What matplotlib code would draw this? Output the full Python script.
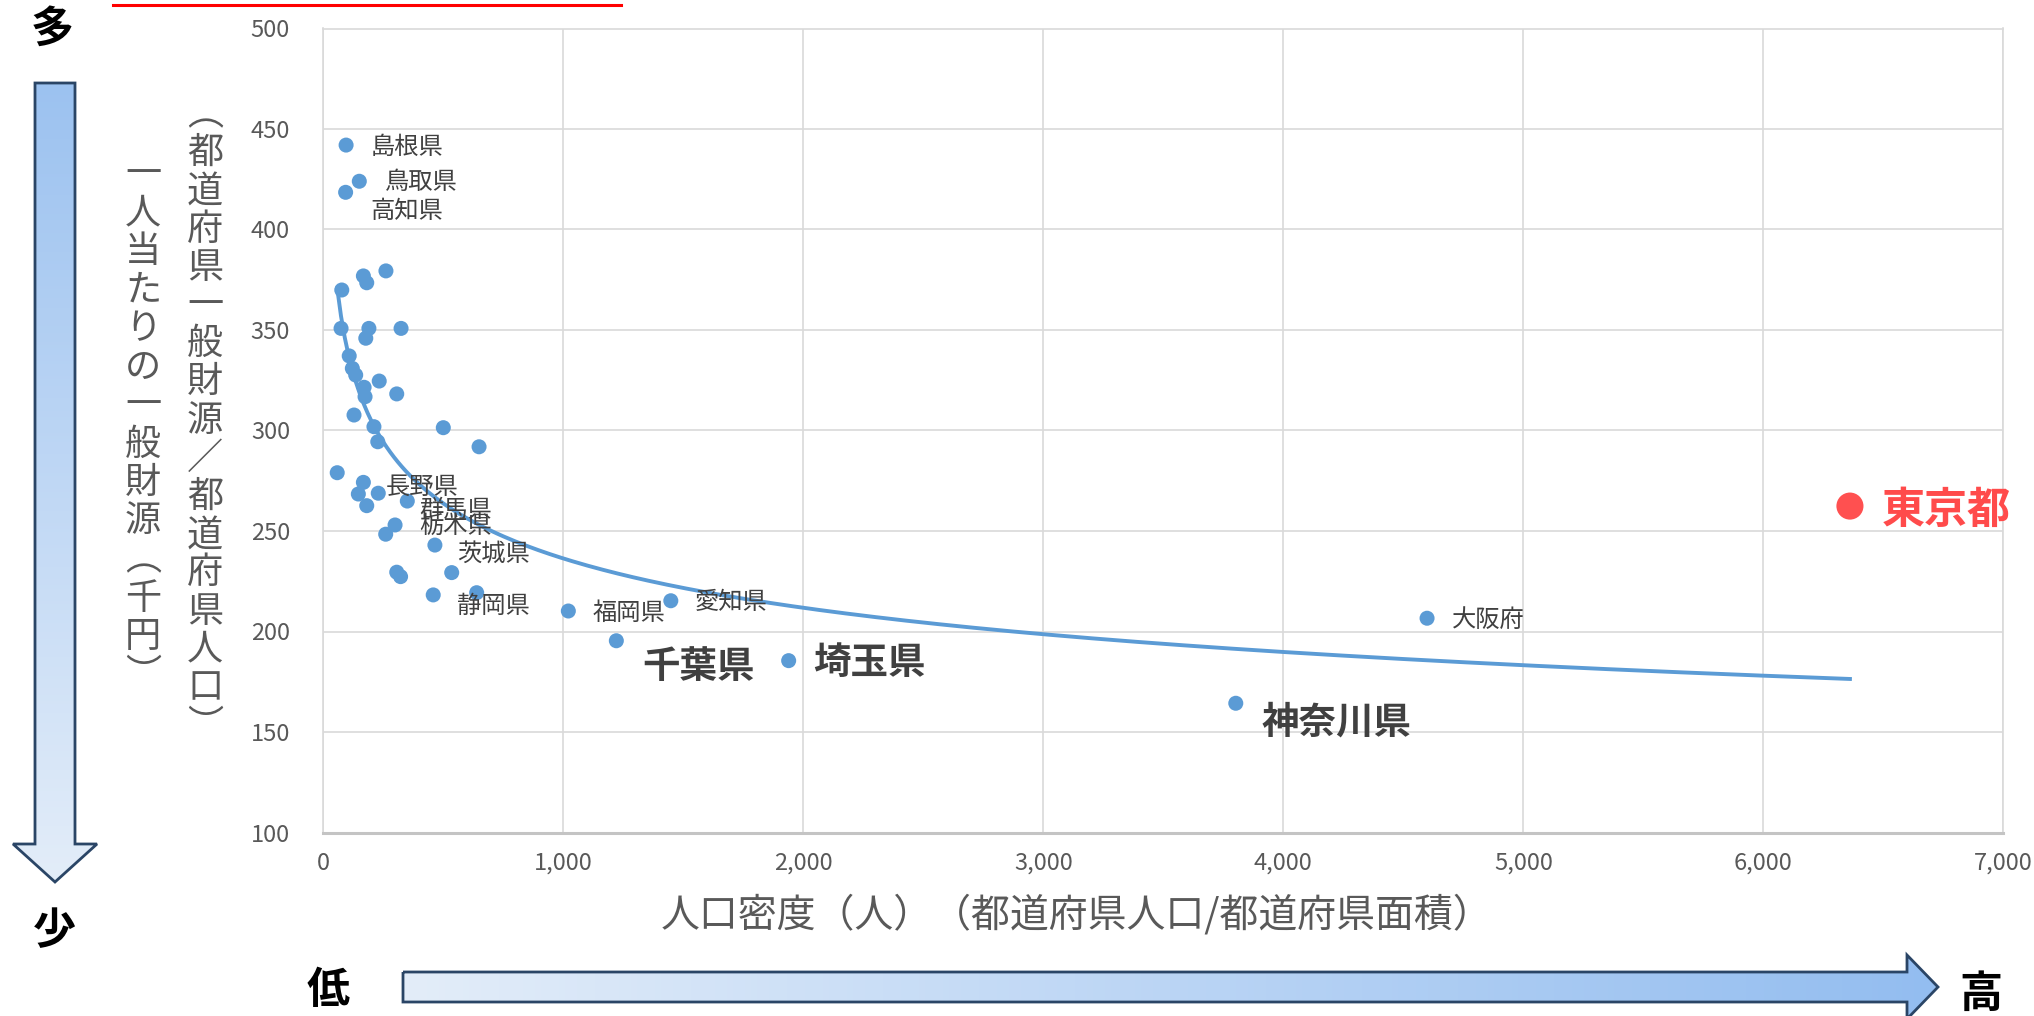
import numpy as np
import matplotlib
matplotlib.use("Agg")
import matplotlib.pyplot as plt
from matplotlib.patches import Polygon
from matplotlib.colors import LinearSegmentedColormap
from matplotlib.ticker import FuncFormatter, MultipleLocator

plt.rcParams['font.family'] = ['Noto Sans CJK JP', 'DejaVu Sans']

# --- DATI ---
# prefetture con etichetta: densita' (persone/km2), entrate generali pro capite (mila yen)
label_names = ["島根県", "鳥取県", "高知県", "長野県", "群馬県", "栃木県", "茨城県",
               "静岡県", "福岡県", "愛知県", "千葉県", "埼玉県", "神奈川県", "大阪府"]
label_density = [95, 150, 93, 146, 299, 260, 465, 458, 1021, 1448, 1221, 1939, 3802, 4599]
label_revenue = [442, 424, 418.5, 268.4, 253, 248.4, 243, 218.2, 210.2, 215.3, 195.4, 185.5, 164.3, 206.6]
bold_names = ["千葉県", "埼玉県", "神奈川県"]

# altre prefetture (senza etichetta)
other_density = [77, 167, 181, 261, 74, 190, 177, 324, 108, 121, 135, 233, 170, 174, 306,
                 128, 211, 227, 500, 649, 58, 167, 229, 181, 350, 306, 322, 535, 639]
other_revenue = [369.9, 376.9, 373.5, 379.4, 350.8, 350.8, 345.9, 350.8, 337.1, 330.9, 327.6,
                 324.6, 321.5, 316.8, 318.2, 307.7, 301.9, 294.4, 301.4, 291.9, 279.0, 274.2,
                 268.8, 262.6, 264.9, 229.5, 227.3, 229.3, 219.3]

tokyo_name = "東京都"
tokyo_density = 6361
tokyo_revenue = 262.4

y_title_1 = "（都道府県一般財源／都道府県人口）"
y_title_2 = "一人当たりの一般財源（千円）"
x_title = "人口密度（人）（都道府県人口/都道府県面積）"

# spostamento etichette (pixel: destra, giu')
label_offsets = [(25, 2), (26, 1), (25, 19), (27, -7), (24, -15), (34, -8), (22, 9),
                 (24, 11), (24, 2), (24, 1), (26, 26), (25, 2), (26, 19), (25, 2)]

W, H = 2034, 1016
BLUE = "#5b9bd5"
RED = "#ff5050"
GRID = "#d9d9d9"
TXT = "#595959"

fig = plt.figure(figsize=(W / 100, H / 100), dpi=100)

# --- GRAFICO PRINCIPALE ---
ax_l, ax_r, ax_t, ax_b = 323.3, 2003.3, 28.5, 832.5
ax = fig.add_axes([ax_l / W, 1 - ax_b / H, (ax_r - ax_l) / W, (ax_b - ax_t) / H])
ax.set_xlim(0, 7000)
ax.set_ylim(100, 500)
ax.xaxis.set_major_locator(MultipleLocator(1000))
ax.yaxis.set_major_locator(MultipleLocator(50))
ax.xaxis.set_major_formatter(FuncFormatter(lambda v, p: f"{int(v):,}"))
ax.grid(True, color=GRID, lw=1.2)
ax.set_axisbelow(True)
for s in ["left", "right", "top"]:
    ax.spines[s].set_color(GRID)
    ax.spines[s].set_linewidth(1.2)
ax.spines["bottom"].set_color("#c4c4c4")
ax.spines["bottom"].set_linewidth(2.2)
ax.tick_params(length=0, labelsize=17, labelcolor=TXT)
ax.tick_params(axis="y", pad=24)
ax.tick_params(axis="x", pad=14)

all_x = np.array(label_density + other_density + [tokyo_density], dtype=float)
all_y = np.array(label_revenue + other_revenue + [tokyo_revenue], dtype=float)

# linea di tendenza (potenza) y = a * x^b
b, ln_a = np.polyfit(np.log(all_x), np.log(all_y), 1)
xs = np.linspace(all_x.min(), all_x.max(), 400)
ax.plot(xs, np.exp(ln_a) * xs ** b, color=BLUE, lw=2.8, zorder=2)

ax.scatter(other_density, other_revenue, s=117, color=BLUE, edgecolors="none", zorder=3)
ax.scatter(label_density, label_revenue, s=117, color=BLUE, edgecolors="none", zorder=3)
ax.scatter([tokyo_density], [tokyo_revenue], s=380, color=RED, edgecolors="none", zorder=3)

for name, xv, yv, (dx, dy) in zip(label_names, label_density, label_revenue, label_offsets):
    bold = name in bold_names
    ax.annotate(name, (xv, yv), xytext=(dx / 1.389, -dy / 1.389), textcoords="offset points",
                ha="left", va="center", color="#404040",
                fontsize=27 if bold else 17.5, fontweight="bold" if bold else "normal", zorder=4)
ax.annotate(tokyo_name, (tokyo_density, tokyo_revenue), xytext=(32 / 1.389, -4 / 1.389),
            textcoords="offset points", ha="left", va="center", color="#ff4b4b",
            fontsize=31, fontweight="bold", zorder=4, annotation_clip=False)

# --- ELEMENTI ESTERNI (coordinate in pixel) ---
ov = fig.add_axes([0, 0, 1, 1])
ov.patch.set_alpha(0)
ov.axis("off")


def gradient_arrow(points, c_start, c_end, vertical):
    poly = Polygon(points, closed=True, facecolor="none", edgecolor="#2a4566", lw=2, zorder=3)
    ov.add_patch(poly)
    xs_p = [p[0] for p in points]
    ys_p = [p[1] for p in points]
    cmap = LinearSegmentedColormap.from_list("g", [c_start, c_end])
    grad = np.linspace(0, 1, 256)
    grad = grad.reshape(-1, 1) if vertical else grad.reshape(1, -1)
    im = ov.imshow(grad, cmap=cmap, aspect="auto", zorder=2,
                   extent=[min(xs_p), max(xs_p), max(ys_p), min(ys_p)])
    im.set_clip_path(poly)


gradient_arrow([(35, 83), (75, 83), (75, 844), (97, 844), (55, 882), (13, 844), (35, 844)],
               "#9cc2f0", "#e3edf9", True)
gradient_arrow([(403, 972), (1907, 972), (1907, 955), (1938, 987), (1907, 1019), (1907, 1002), (403, 1002)],
               "#e3edf9", "#93bdf0", False)

ov.set_xlim(0, W)
ov.set_ylim(H, 0)

for ch, (x, y) in zip(["多", "少", "低", "高"], [(52, 29), (54, 931), (328, 990), (1981, 994)]):
    ov.text(x, y, ch, ha="center", va="center", fontsize=31, fontweight="bold", color="black")

# titoli verticali dell'asse y (carattere per carattere)
vert = str.maketrans({"（": "︵", "）": "︶"})
for title, xc, first, pitch in [(y_title_1, 205, 115, 38.2), (y_title_2, 143, 175, 38.5)]:
    for i, ch in enumerate(title.translate(vert)):
        ov.text(xc, first + pitch * i, ch, ha="center", va="center", fontsize=26, color=TXT)

ov.text(1077, 915, x_title, ha="center", va="center", fontsize=28, color=TXT)

# linea rossa in alto
ov.plot([113, 621], [4.5, 4.5], color="red", lw=2.2)

fig.savefig("out.png", dpi=100)
